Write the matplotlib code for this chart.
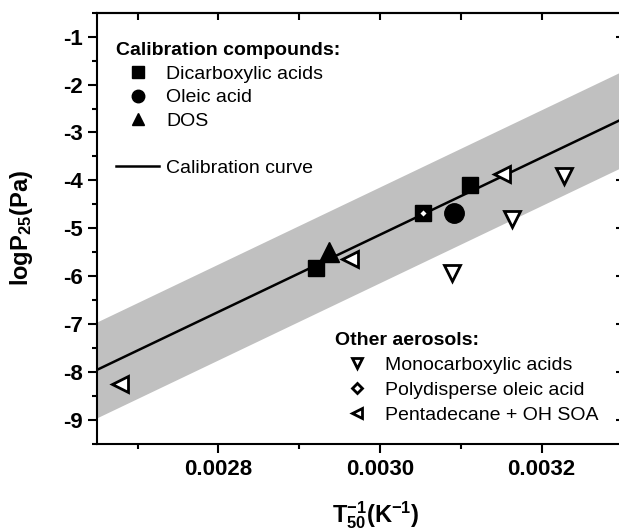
import matplotlib
matplotlib.use("Agg")
import matplotlib.pyplot as plt
from matplotlib.lines import Line2D
from matplotlib.ticker import MultipleLocator, NullLocator

plt.rcParams['font.family'] = ['Liberation Sans', 'DejaVu Sans']
plt.rcParams['mathtext.fontset'] = 'custom'
plt.rcParams['mathtext.rm'] = 'Liberation Sans'
plt.rcParams['mathtext.bf'] = 'Liberation Sans:bold'
plt.rcParams['mathtext.it'] = 'Liberation Sans:italic'

# calibration curve (end points) and its +/- 1 band
curve_x = [0.00265, 0.00330]
curve_y = [-7.95, -2.72]
band = 1.0

# calibration compounds
diacid_x = [0.002921, 0.003053, 0.003112]
diacid_y = [-5.83, -4.69, -4.10]
oleic_x = [0.003092]
oleic_y = [-4.67]
dos_x = [0.002937]
dos_y = [-5.50]

# other aerosols
mono_x = [0.003089, 0.003164, 0.003228]
mono_y = [-5.93, -4.81, -3.90]
polyoleic_x = [0.003053]
polyoleic_y = [-4.69]
penta_x = [0.002678, 0.002963, 0.003151]
penta_y = [-8.25, -5.64, -3.87]

xticks = [0.0028, 0.0030, 0.0032]
xticklabels = ['0.0028', '0.0030', '0.0032']
yticks = [-1, -2, -3, -4, -5, -6, -7, -8, -9]
yticklabels = ['-1', '-2', '-3', '-4', '-5', '-6', '-7', '-8', '-9']

calib_labels = ['Dicarboxylic acids', 'Oleic acid', 'DOS', ' ', 'Calibration curve']
other_labels = ['Monocarboxylic acids', 'Polydisperse oleic acid', 'Pentadecane + OH SOA']

fig = plt.figure(figsize=(6.19, 5.30), dpi=100)
ax = fig.add_axes([0.1572, 0.1623, 0.8481, 0.8138])

lo = [y - band for y in curve_y]
hi = [y + band for y in curve_y]
ax.fill_between(curve_x, lo, hi, color='#c0c0c0', lw=0, zorder=1)
ax.plot(curve_x, curve_y, color='k', lw=1.8, zorder=2)

ax.plot(diacid_x, diacid_y, 's', color='k', ms=12, zorder=3)
ax.plot(oleic_x, oleic_y, 'o', color='k', ms=14, zorder=3)
ax.plot(dos_x, dos_y, '^', color='k', ms=14, zorder=3)
ax.plot(mono_x, mono_y, 'v', mfc='white', mec='k', mew=2, ms=11, zorder=4)
ax.plot(polyoleic_x, polyoleic_y, 'D', mfc='white', mec='k', mew=2, ms=5.5, zorder=4)
ax.plot(penta_x, penta_y, '<', mfc='white', mec='k', mew=2, ms=11, zorder=4)

ax.set_xlim(0.00265, 0.00330)
ax.set_ylim(-9.5, -0.5)
ax.set_xticks(xticks)
ax.set_xticklabels(xticklabels, fontweight='bold', fontsize=16)
ax.set_yticks(yticks)
ax.set_yticklabels(yticklabels, fontweight='bold', fontsize=16)
ax.xaxis.set_minor_locator(MultipleLocator(0.0001))
ax.yaxis.set_minor_locator(MultipleLocator(0.5))
ax.tick_params(which='major', direction='out', length=6.5, width=1.5, pad=4)
ax.tick_params(which='minor', direction='out', length=3.5, width=1.5)
for s in ax.spines.values():
    s.set_linewidth(1.5)

# mirrored ticks, pointing in
top = ax.secondary_xaxis('top')
top.set_xticks(xticks)
top.xaxis.set_minor_locator(MultipleLocator(0.0001))
top.tick_params(which='both', direction='in', length=5, width=1.5, labeltop=False)
top.spines['top'].set_linewidth(1.5)
right = ax.secondary_yaxis('right')
right.set_yticks(yticks)
right.yaxis.set_minor_locator(NullLocator())
right.tick_params(direction='in', length=4, width=1.5, labelright=False)

ax.set_xlabel(r'$\mathbf{T_{50}^{-1}(K^{-1})}$', fontsize=17)
ax.xaxis.set_label_coords(0.531, -0.128)
ax.set_ylabel(r'$\mathbf{logP_{25}(Pa)}$', fontsize=17)
ax.yaxis.set_label_coords(-0.118, 0.5)

h1 = [Line2D([], [], marker='s', ls='none', color='k', ms=8),
      Line2D([], [], marker='o', ls='none', color='k', ms=9),
      Line2D([], [], marker='^', ls='none', color='k', ms=9),
      Line2D([], [], ls='none'),
      Line2D([], [], color='k', lw=1.8)]
leg1 = ax.legend(h1, calib_labels, title='Calibration compounds:', loc='upper left',
                 bbox_to_anchor=(0.036, 0.931), frameon=False, fontsize=14,
                 title_fontproperties={'weight': 'bold', 'size': 14}, alignment='left',
                 borderpad=0, borderaxespad=0, handlelength=2.2, handletextpad=0.38,
                 labelspacing=0.3)
ax.add_artist(leg1)

h2 = [Line2D([], [], marker='v', ls='none', mfc='white', mec='k', mew=2, ms=7),
      Line2D([], [], marker='D', ls='none', mfc='white', mec='k', mew=2, ms=5),
      Line2D([], [], marker='<', ls='none', mfc='white', mec='k', mew=2, ms=7)]
ax.legend(h2, other_labels, title='Other aerosols:', loc='upper left',
          bbox_to_anchor=(0.453, 0.259), frameon=False, fontsize=14,
          title_fontproperties={'weight': 'bold', 'size': 14}, alignment='left',
          borderpad=0, borderaxespad=0, handlelength=2.2, handletextpad=0.38,
          labelspacing=0.37)

fig.savefig('out.png', dpi=100)
